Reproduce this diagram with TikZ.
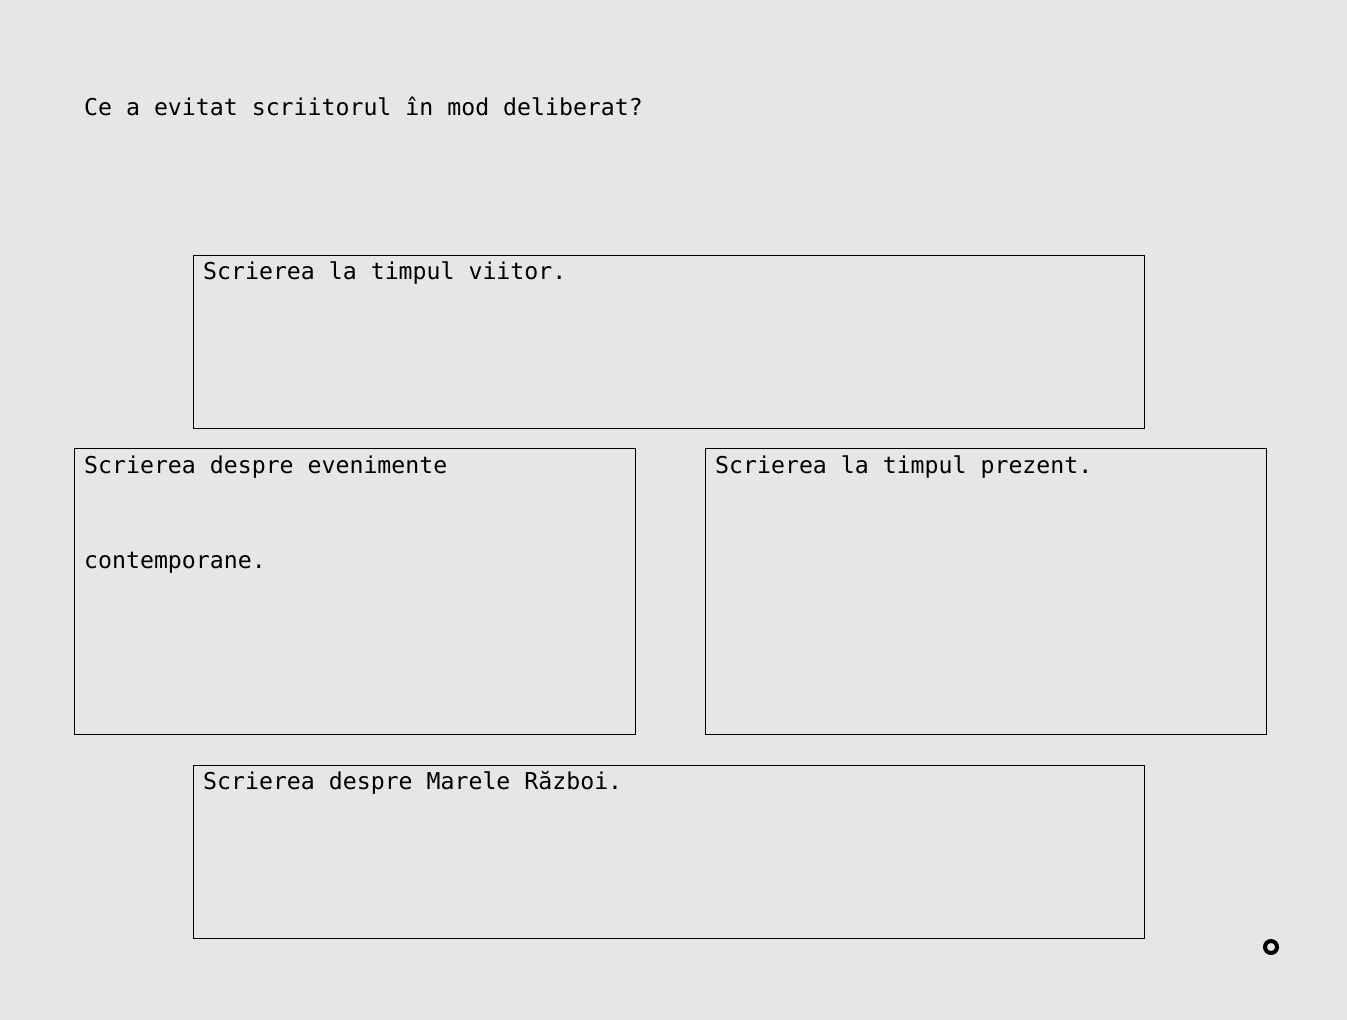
\documentclass[tikz,border=0pt]{standalone}
\usepackage{fontspec}
\setmonofont{DejaVu Sans Mono}
\definecolor{bg}{HTML}{E6E6E6}
\begin{document}
\begin{tikzpicture}[x=1pt,y=-1pt,
  box/.style={draw=black,line width=1pt},
  lbl/.style={anchor=base west,inner sep=0pt,font=\fontsize{23.2}{23.2}\selectfont\ttfamily}]
\fill[bg] (0,0) rectangle (1347,1020);
\useasboundingbox (0,0) rectangle (1347,1020);
\node[lbl] (title) at (84,115) {Ce a evitat scriitorul în mod deliberat?};
\draw[box] (193.5,255.5) rectangle (1144.5,428.5);
\node[lbl] (t1) at (203,279) {Scrierea la timpul viitor.};
\draw[box] (74.5,448.5) rectangle (635.5,734.5);
\node[lbl] (t2a) at (84,473) {Scrierea despre evenimente};
\node[lbl] (t2b) at (84,568) {contemporane.};
\draw[box] (705.5,448.5) rectangle (1266.5,734.5);
\node[lbl] (t3) at (715,473) {Scrierea la timpul prezent.};
\draw[box] (193.5,765.5) rectangle (1144.5,938.5);
\node[lbl] (t4) at (203,789) {Scrierea despre Marele Război.};
\draw[line width=4pt] (1271,947) circle (6);
\end{tikzpicture}
\end{document}
